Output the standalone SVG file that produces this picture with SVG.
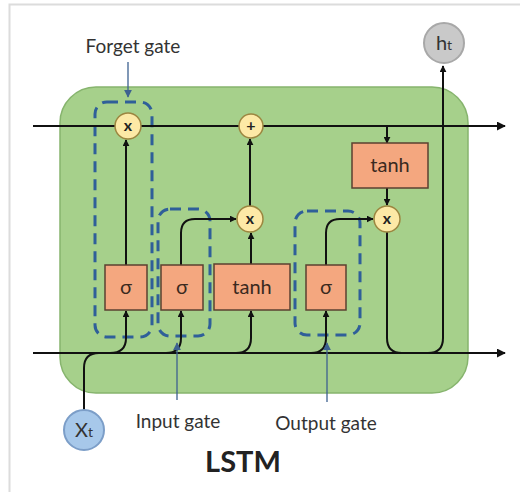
<svg xmlns="http://www.w3.org/2000/svg" width="520" height="492" viewBox="0 0 520 492">
<defs>
<marker id="ah" viewBox="0 0 10 10" refX="9" refY="5" markerWidth="7" markerHeight="7" markerUnits="userSpaceOnUse" orient="auto"><path d="M0,0 L10,5 L0,10 z" fill="#111"/></marker>
<marker id="ahb" viewBox="0 0 10 10" refX="9" refY="5" markerWidth="9" markerHeight="9" markerUnits="userSpaceOnUse" orient="auto"><path d="M0,0 L10,5 L0,10 z" fill="#111"/></marker>
<marker id="ag" viewBox="0 0 10 10" refX="9" refY="5" markerWidth="8" markerHeight="8" markerUnits="userSpaceOnUse" orient="auto"><path d="M0,0 L10,5 L0,10 z" fill="#3d6190"/></marker>
</defs>
<style>
.box{fill:#f4a77f;stroke:#5b4030;stroke-width:1.5}
.op{fill:#fde9a6;stroke:#9c8640;stroke-width:1.5}
.bt{font-family:Lato,"Open Sans",sans-serif;font-size:20px;fill:#3a2a20;text-anchor:middle}
.ot{font-family:Lato,"Open Sans",sans-serif;font-size:16px;font-weight:bold;fill:#222;text-anchor:middle}
.lbl{font-family:Lato,"Open Sans",sans-serif;font-size:19px;fill:#333;text-anchor:middle}
.ln{fill:none;stroke:#111;stroke-width:2}
.gate{fill:none;stroke:#2f5f99;stroke-width:3;stroke-dasharray:11 7}
.ptr{fill:none;stroke:#3d6190;stroke-width:1.3}
</style>
<rect x="9.5" y="4.5" width="520" height="500" fill="#fff" stroke="#dcdcdc" stroke-width="2"/>
<rect id="cell" x="60" y="87" width="408" height="306" rx="36" fill="#a6d08b" stroke="#86b46d" stroke-width="1.5"/>

<g id="gates">
<rect id="forget-box" class="gate" x="95" y="102" width="57" height="235" rx="12"/>
<rect id="input-box" class="gate" x="158" y="209" width="52" height="127" rx="12"/>
<rect id="output-box" class="gate" x="295" y="211" width="65" height="124" rx="12"/>
</g>

<g id="connectors">
<path class="ln" d="M33 126 H505" marker-end="url(#ahb)"/>
<path class="ln" d="M33 353 H505" marker-end="url(#ahb)"/>
<path class="ln" d="M126 265 V140" marker-end="url(#ah)"/>
<path class="ln" d="M181 265 V233 Q181 219 195 219 H236" marker-end="url(#ah)"/>
<path class="ln" d="M251 264 V233" marker-end="url(#ah)"/>
<path class="ln" d="M250 206 V139" marker-end="url(#ah)"/>
<path class="ln" d="M326 265 V233 Q326 219 340 219 H373" marker-end="url(#ah)"/>
<path class="ln" d="M387 126 V143" marker-end="url(#ah)"/>
<path class="ln" d="M387 188 V205" marker-end="url(#ah)"/>
<path class="ln" d="M387 232 V338 Q387 353 402 353"/>
<path class="ln" d="M428 353 Q443 353 443 338 V66" marker-end="url(#ah)"/>
<path class="ln" d="M110 353 Q126 353 126 338 V311" marker-end="url(#ah)"/>
<path class="ln" d="M166 353 Q181 353 181 338 V311" marker-end="url(#ah)"/>
<path class="ln" d="M236 353 Q251 353 251 338 V311" marker-end="url(#ah)"/>
<path class="ln" d="M311 353 Q326 353 326 338 V311" marker-end="url(#ah)"/>
<path class="ln" d="M84 410 V368 Q84 353 99 353"/>
<path class="ptr" d="M128 62 V97" marker-end="url(#ag)"/>
<path class="ptr" d="M177 400 V343" marker-end="url(#ag)"/>
<path class="ptr" d="M327 402 V343" marker-end="url(#ag)"/>
</g>

<g id="forget-mul"><circle class="op" cx="128" cy="126" r="13"/><text class="ot" x="128" y="131">x</text></g>
<g id="add"><circle class="op" cx="251" cy="126" r="12"/><text class="ot" x="251" y="131">+</text></g>
<g id="input-mul"><circle class="op" cx="250" cy="219" r="13"/><text class="ot" x="250" y="224">x</text></g>
<g id="output-mul"><circle class="op" cx="387" cy="219" r="13"/><text class="ot" x="387" y="224">x</text></g>

<g id="sigma-forget"><rect class="box" x="105" y="265" width="42" height="45"/><text class="bt" x="126" y="294">σ</text></g>
<g id="sigma-input"><rect class="box" x="161" y="265" width="42" height="45"/><text class="bt" x="182" y="294">σ</text></g>
<g id="tanh-input"><rect class="box" x="214" y="264" width="76" height="46"/><text class="bt" x="252" y="294">tanh</text></g>
<g id="sigma-output"><rect class="box" x="306" y="265" width="40" height="45"/><text class="bt" x="326" y="294">σ</text></g>
<g id="tanh-output"><rect class="box" x="352" y="143" width="76" height="45"/><text class="bt" x="390" y="172">tanh</text></g>

<g id="ht"><circle cx="444" cy="43" r="20" fill="#c9c9c9" stroke="#a8a8a8" stroke-width="2"/><text x="444" y="50" font-family="Lato,'Open Sans',sans-serif" font-size="20" fill="#333" text-anchor="middle">h<tspan font-size="14">t</tspan></text></g>
<g id="xt"><circle cx="84" cy="430" r="20" fill="#a7c8ea" stroke="#7c9ec8" stroke-width="2"/><text x="84" y="437" font-family="Lato,'Open Sans',sans-serif" font-size="20" fill="#333" text-anchor="middle">X<tspan font-size="14">t</tspan></text></g>

<g id="labels">
<text class="lbl" x="133" y="53">Forget gate</text>
<text class="lbl" x="178" y="428">Input gate</text>
<text class="lbl" x="326" y="430">Output gate</text>
<text x="243" y="472" font-family="Lato,'Open Sans',sans-serif" font-size="29" font-weight="bold" fill="#222" text-anchor="middle">LSTM</text>
</g>
</svg>
